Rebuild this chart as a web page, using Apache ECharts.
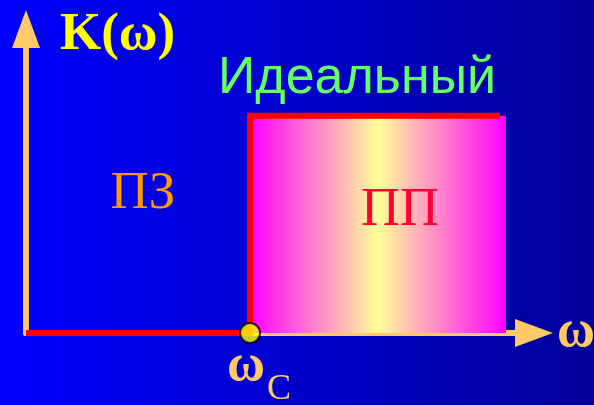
<!DOCTYPE html>
<html>
<head>
<meta charset="utf-8">
<script src="https://cdn.jsdelivr.net/npm/echarts@6/dist/echarts.min.js"></script>
<style>
  html, body { margin: 0; padding: 0; background: #0000cc; }
  #chart { width: 594px; height: 405px; }
</style>
</head>
<body>
<div id="chart"></div>
<script>
// ideal low-pass characteristic K(w)
const omegaC = 4.41
const xMax = 10
const yMax = 1.4
const responseW = [0, omegaC, omegaC, 9.33]
const responseK = [0, 0, 1, 1]
const passBand = [omegaC, 9.45, 1] // from, to, level

const serif = 'Liberation Serif'
const sans = 'Liberation Sans'
const axisColor = '#ffc966'

const chart = echarts.init(document.getElementById('chart'))

const axisCommon = {
  type: 'value',
  axisLine: {
    show: true,
    symbol: ['none', 'triangle'],
    symbolSize: [28, 38],
    lineStyle: { color: axisColor, width: 6 }
  },
  axisTick: { show: false },
  axisLabel: { show: false },
  splitLine: { show: false }
}

chart.setOption({
  animation: false,
  grid: { left: 26, right: 60, top: 29, bottom: 72 },
  xAxis: Object.assign({ min: 0, max: xMax }, axisCommon),
  yAxis: Object.assign({ min: 0, max: yMax }, axisCommon),
  graphic: [
    {
      type: 'rect',
      z: -10,
      shape: { x: 0, y: 0, width: 594, height: 405 },
      style: {
        fill: new echarts.graphic.LinearGradient(0, 0, 1, 0, [
          { offset: 0, color: '#0000ff' },
          { offset: 1, color: '#000098' }
        ])
      }
    },
    { type: 'text', x: 60, y: 35, z: 100, style: { text: 'K(ω)', fill: '#ffff00', font: 'bold 53px ' + serif, align: 'left', verticalAlign: 'middle' } },
    { type: 'text', x: 557, y: 333, z: 100, style: { text: 'ω', fill: axisColor, font: 'bold 52px ' + serif, align: 'left', verticalAlign: 'middle' } },
    { type: 'text', x: 357, y: 79, z: 100, style: { text: 'Идеальный', fill: '#66ff66', font: '52px ' + sans, align: 'center', verticalAlign: 'middle' } },
    { type: 'text', x: 143, y: 194, z: 100, style: { text: 'ПЗ', fill: '#ff9900', font: '53px ' + serif, align: 'center', verticalAlign: 'middle' } },
    { type: 'text', x: 400, y: 211, z: 100, style: { text: 'ПП', fill: '#ff0033', font: '54px ' + serif, align: 'center', verticalAlign: 'middle' } },
    { type: 'text', x: 246, y: 367, z: 100, style: { text: 'ω', fill: axisColor, font: 'bold 52px ' + serif, align: 'center', verticalAlign: 'middle' } },
    { type: 'text', x: 279, y: 390, z: 100, style: { text: 'C', fill: axisColor, font: '36px ' + serif, align: 'center', verticalAlign: 'middle' } }
  ],
  series: [
    {
      type: 'custom',
      z: 2,
      silent: true,
      data: [passBand],
      encode: { x: [0, 1], y: 2 },
      renderItem: function (params, api) {
        const p0 = api.coord([api.value(0), api.value(2)])
        const p1 = api.coord([api.value(1), 0])
        return {
          type: 'rect',
          shape: { x: p0[0], y: p0[1], width: p1[0] - p0[0], height: p1[1] - p0[1] },
          style: {
            fill: new echarts.graphic.LinearGradient(0, 0, 1, 0, [
              { offset: 0, color: '#ff00ff' },
              { offset: 0.5, color: '#ffff99' },
              { offset: 1, color: '#ff00ff' }
            ])
          }
        }
      }
    },
    {
      type: 'line',
      z: 3,
      silent: true,
      symbol: 'none',
      data: responseW.map((w, i) => [w, responseK[i]]),
      lineStyle: { color: '#ff0000', width: 6, join: 'miter', cap: 'butt' }
    },
    {
      type: 'scatter',
      z: 4,
      silent: true,
      symbolSize: 20,
      data: [[omegaC, 0]],
      itemStyle: { color: '#ffff00', borderColor: '#000000', borderWidth: 2 }
    }
  ]
})
</script>
</body>
</html>
